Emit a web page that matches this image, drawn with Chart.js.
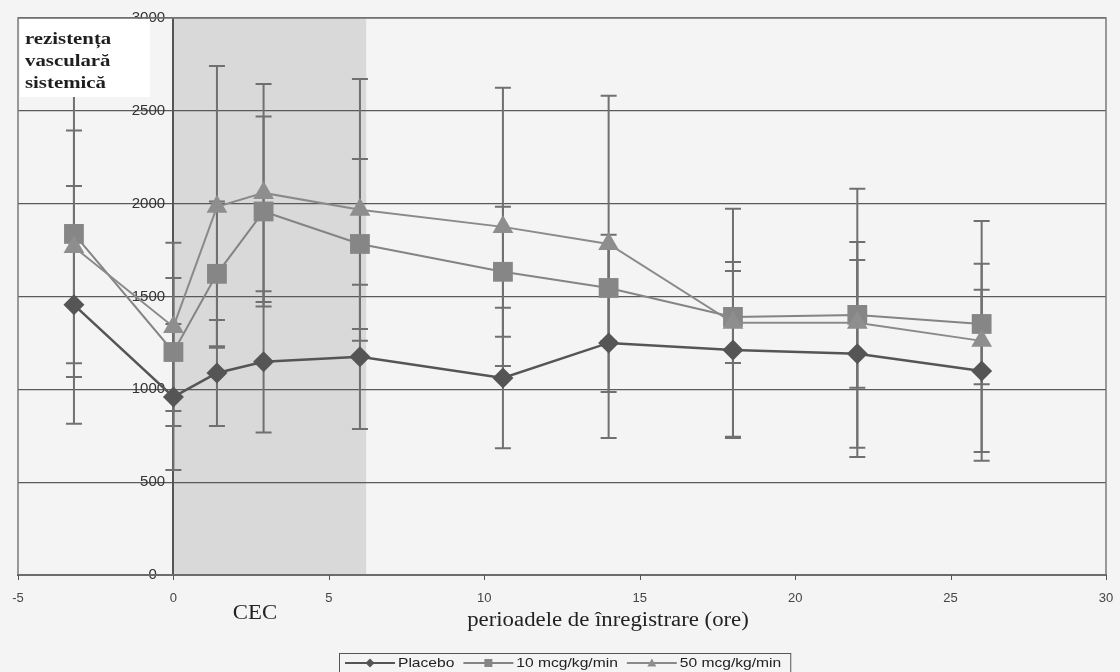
<!DOCTYPE html>
<html>
<head>
<meta charset="utf-8">
<script src="https://cdn.jsdelivr.net/npm/chart.js@4.4.1/dist/chart.umd.min.js"></script>
<style>
  html, body { margin: 0; padding: 0; background: #f4f4f4; }
  #wrap { width: 1120px; height: 672px; }
</style>
</head>
<body>
<div id="wrap"><canvas id="rvsChart" width="1120" height="672"></canvas></div>
<script>
// measurement times (hours) and group means / error bars
var times = [-3.2, 0, 1.4, 2.9, 6.0, 10.6, 14.0, 18.0, 22.0, 26.0];
var placebo = [1455, 959, 1088, 1148, 1175, 1061, 1250, 1212, 1191, 1099];
var placeboSd = [640, 393, 285, 380, 388, 378, 512, 474, 506, 437];
var dose10 = [1837, 1201, 1622, 1958, 1783, 1633, 1546, 1390, 1401, 1352];
var dose10Sd = [770, 399, 390, 512, 458, 350, 286, 248, 393, 324];
var dose50 = [1767, 1336, 1983, 2058, 1967, 1875, 1783, 1358, 1358, 1261];
var dose50Sd = [627, 453, 759, 587, 705, 749, 798, 614, 722, 646];

var seriesNames = ['Placebo', '10 mcg/kg/min', '50 mcg/kg/min'];
var xTicks = [-5, 0, 5, 10, 15, 20, 25, 30];
var yTicks = [0, 500, 1000, 1500, 2000, 2500, 3000];
var cecPeriod = [0, 6.2];
var boxLabel = ['rezistența', 'vasculară', 'sistemică'];

function toPoints(vals) {
  return times.map(function(t, i) { return {x: t, y: vals[i]}; });
}

// little helper: the scanned text is wider than the plain fonts
function wideText(ctx, text, x, y, sx, align) {
  ctx.save();
  ctx.translate(x, y);
  ctx.scale(sx, 1);
  ctx.textAlign = align || 'left';
  ctx.fillText(text, 0, 0);
  ctx.restore();
}

function marker(ctx, style, x, y, r) {
  ctx.beginPath();
  if (style === 'rectRot') {
    ctx.moveTo(x, y - r); ctx.lineTo(x + r, y); ctx.lineTo(x, y + r); ctx.lineTo(x - r, y);
  } else if (style === 'rect') {
    ctx.rect(x - r, y - r, 2 * r, 2 * r);
  } else {
    ctx.moveTo(x, y - r); ctx.lineTo(x + r, y + r * 0.8); ctx.lineTo(x - r, y + r * 0.8);
  }
  ctx.closePath();
  ctx.fill();
}

var background = {
  id: 'background',
  beforeDraw: function(chart) {
    var ctx = chart.ctx, a = chart.chartArea, xs = chart.scales.x;
    ctx.save();
    ctx.fillStyle = '#f4f4f4';
    ctx.fillRect(0, 0, chart.width, chart.height);
    // CEC period shading
    var x0 = xs.getPixelForValue(cecPeriod[0]);
    var x1 = xs.getPixelForValue(cecPeriod[1]);
    ctx.fillStyle = '#d9d9d9';
    ctx.fillRect(x0, a.top, x1 - x0, a.bottom - a.top);
    ctx.restore();
  }
};

var errorBars = {
  id: 'errorBars',
  beforeDatasetsDraw: function(chart) {
    var ctx = chart.ctx, xs = chart.scales.x, ys = chart.scales.y;
    ctx.save();
    ctx.strokeStyle = '#707070';
    ctx.lineWidth = 2;
    chart.data.datasets.forEach(function(ds) {
      ds.data.forEach(function(p, i) {
        var px = xs.getPixelForValue(p.x);
        var top = ys.getPixelForValue(p.y + ds.sd[i]);
        var bot = ys.getPixelForValue(p.y - ds.sd[i]);
        ctx.beginPath();
        ctx.moveTo(px, top); ctx.lineTo(px, bot);
        ctx.moveTo(px - 8, top); ctx.lineTo(px + 8, top);
        ctx.moveTo(px - 8, bot); ctx.lineTo(px + 8, bot);
        ctx.stroke();
      });
    });
    ctx.restore();
  }
};

var decorations = {
  id: 'decorations',
  afterDraw: function(chart) {
    var ctx = chart.ctx, a = chart.chartArea, xs = chart.scales.x;
    ctx.save();

    // white label box top-left
    ctx.fillStyle = '#ffffff';
    ctx.fillRect(a.left + 2, a.top + 1, 130, 78);
    ctx.fillStyle = '#1e1e1e';
    ctx.font = 'bold 16px "Liberation Serif"';
    ctx.textBaseline = 'middle';
    boxLabel.forEach(function(s, i) {
      wideText(ctx, s, a.left + 7, a.top + 22 + i * 22, 1.3);
    });

    // plot frame
    ctx.strokeStyle = '#7a7a7a';
    ctx.lineWidth = 1.5;
    ctx.strokeRect(a.left, a.top, a.right - a.left, a.bottom - a.top);

    // short tick marks under the x axis (the axis' own ticks are kept invisible for spacing)
    ctx.strokeStyle = '#555';
    ctx.lineWidth = 1;
    ctx.beginPath();
    xs.ticks.forEach(function(t) {
      var px = Math.round(xs.getPixelForValue(t.value)) + 0.5;
      ctx.moveTo(px, a.bottom); ctx.lineTo(px, a.bottom + 5);
    });
    ctx.stroke();

    // axis captions
    ctx.fillStyle = '#222';
    ctx.font = '20px "Liberation Serif"';
    wideText(ctx, 'CEC', 255, 614, 1.14, 'center');
    wideText(ctx, 'perioadele de înregistrare (ore)', 608, 621, 1.14, 'center');

    // legend
    var ly = 663, lx = 345;
    ctx.font = '13px "Liberation Sans"';
    var start = lx - 6;
    chart.data.datasets.forEach(function(ds) {
      ctx.strokeStyle = ds.borderColor;
      ctx.lineWidth = 2;
      ctx.beginPath();
      ctx.moveTo(lx, ly); ctx.lineTo(lx + 50, ly);
      ctx.stroke();
      ctx.fillStyle = ds.pointBackgroundColor;
      marker(ctx, ds.pointStyle, lx + 25, ly, ds.pointStyle === 'rect' ? 4 : 4.5);
      ctx.fillStyle = '#222';
      wideText(ctx, ds.label, lx + 53, ly, 1.2);
      lx = lx + 53 + ctx.measureText(ds.label).width * 1.2 + 9;
    });
    ctx.strokeStyle = '#555';
    ctx.lineWidth = 1;
    ctx.strokeRect(start + 0.5, 653.5, lx - start, 24);
    ctx.restore();
  }
};

var ctx = document.getElementById('rvsChart').getContext('2d');
var chart = new Chart(ctx, {
  type: 'scatter',
  data: {
    datasets: [{
      label: seriesNames[0],
      data: toPoints(placebo),
      sd: placeboSd,
      showLine: true,
      borderColor: '#555555',
      borderWidth: 2.5,
      pointStyle: 'rectRot',
      pointRadius: 10.5,
      pointBackgroundColor: '#555555',
      pointBorderWidth: 0,
      order: 0
    }, {
      label: seriesNames[1],
      data: toPoints(dose10),
      sd: dose10Sd,
      showLine: true,
      borderColor: '#848484',
      borderWidth: 2,
      pointStyle: 'rect',
      pointRadius: 14,
      pointBackgroundColor: '#868686',
      pointBorderWidth: 0,
      order: 2
    }, {
      label: seriesNames[2],
      data: toPoints(dose50),
      sd: dose50Sd,
      showLine: true,
      borderColor: '#8a8a8a',
      borderWidth: 2,
      pointStyle: 'triangle',
      pointRadius: 12,
      pointBackgroundColor: '#8e8e8e',
      pointBorderWidth: 0,
      order: 1
    }]
  },
  options: {
    responsive: false,
    animation: false,
    devicePixelRatio: 1,
    layout: { padding: { left: 18, right: 10, top: 18, bottom: 0 } },
    plugins: {
      legend: { display: false },
      tooltip: { enabled: false }
    },
    scales: {
      x: {
        type: 'linear',
        position: 'bottom',
        min: xTicks[0],
        max: xTicks[xTicks.length - 1],
        afterBuildTicks: function(s) { s.ticks = xTicks.map(function(v) { return {value: v}; }); },
        afterFit: function(s) { s.height = 97; },
        grid: { display: true, drawOnChartArea: false, drawTicks: true, tickLength: 16, tickColor: 'rgba(0,0,0,0)' },
        border: { display: true, color: '#444', width: 2 },
        ticks: {
          padding: 0, color: '#444', maxRotation: 0,
          font: { family: 'Liberation Sans', size: 13 },
          callback: function(v) { return String(v); }
        }
      },
      y: {
        type: 'linear',
        position: { x: 0 },
        min: yTicks[0],
        max: yTicks[yTicks.length - 1],
        afterBuildTicks: function(s) { s.ticks = yTicks.map(function(v) { return {value: v}; }); },
        grid: { color: '#5a5a5a', lineWidth: 1.2, drawTicks: false },
        border: { display: true, color: '#555', width: 2 },
        ticks: {
          color: '#333',
          font: { family: 'Liberation Sans', size: 15 },
          // labels sit just left of the axis line
          callback: function(v) { return String(v) + (v === 0 ? '    ' : '  '); }
        }
      }
    }
  },
  plugins: [background, errorBars, decorations]
});
</script>
</body>
</html>
